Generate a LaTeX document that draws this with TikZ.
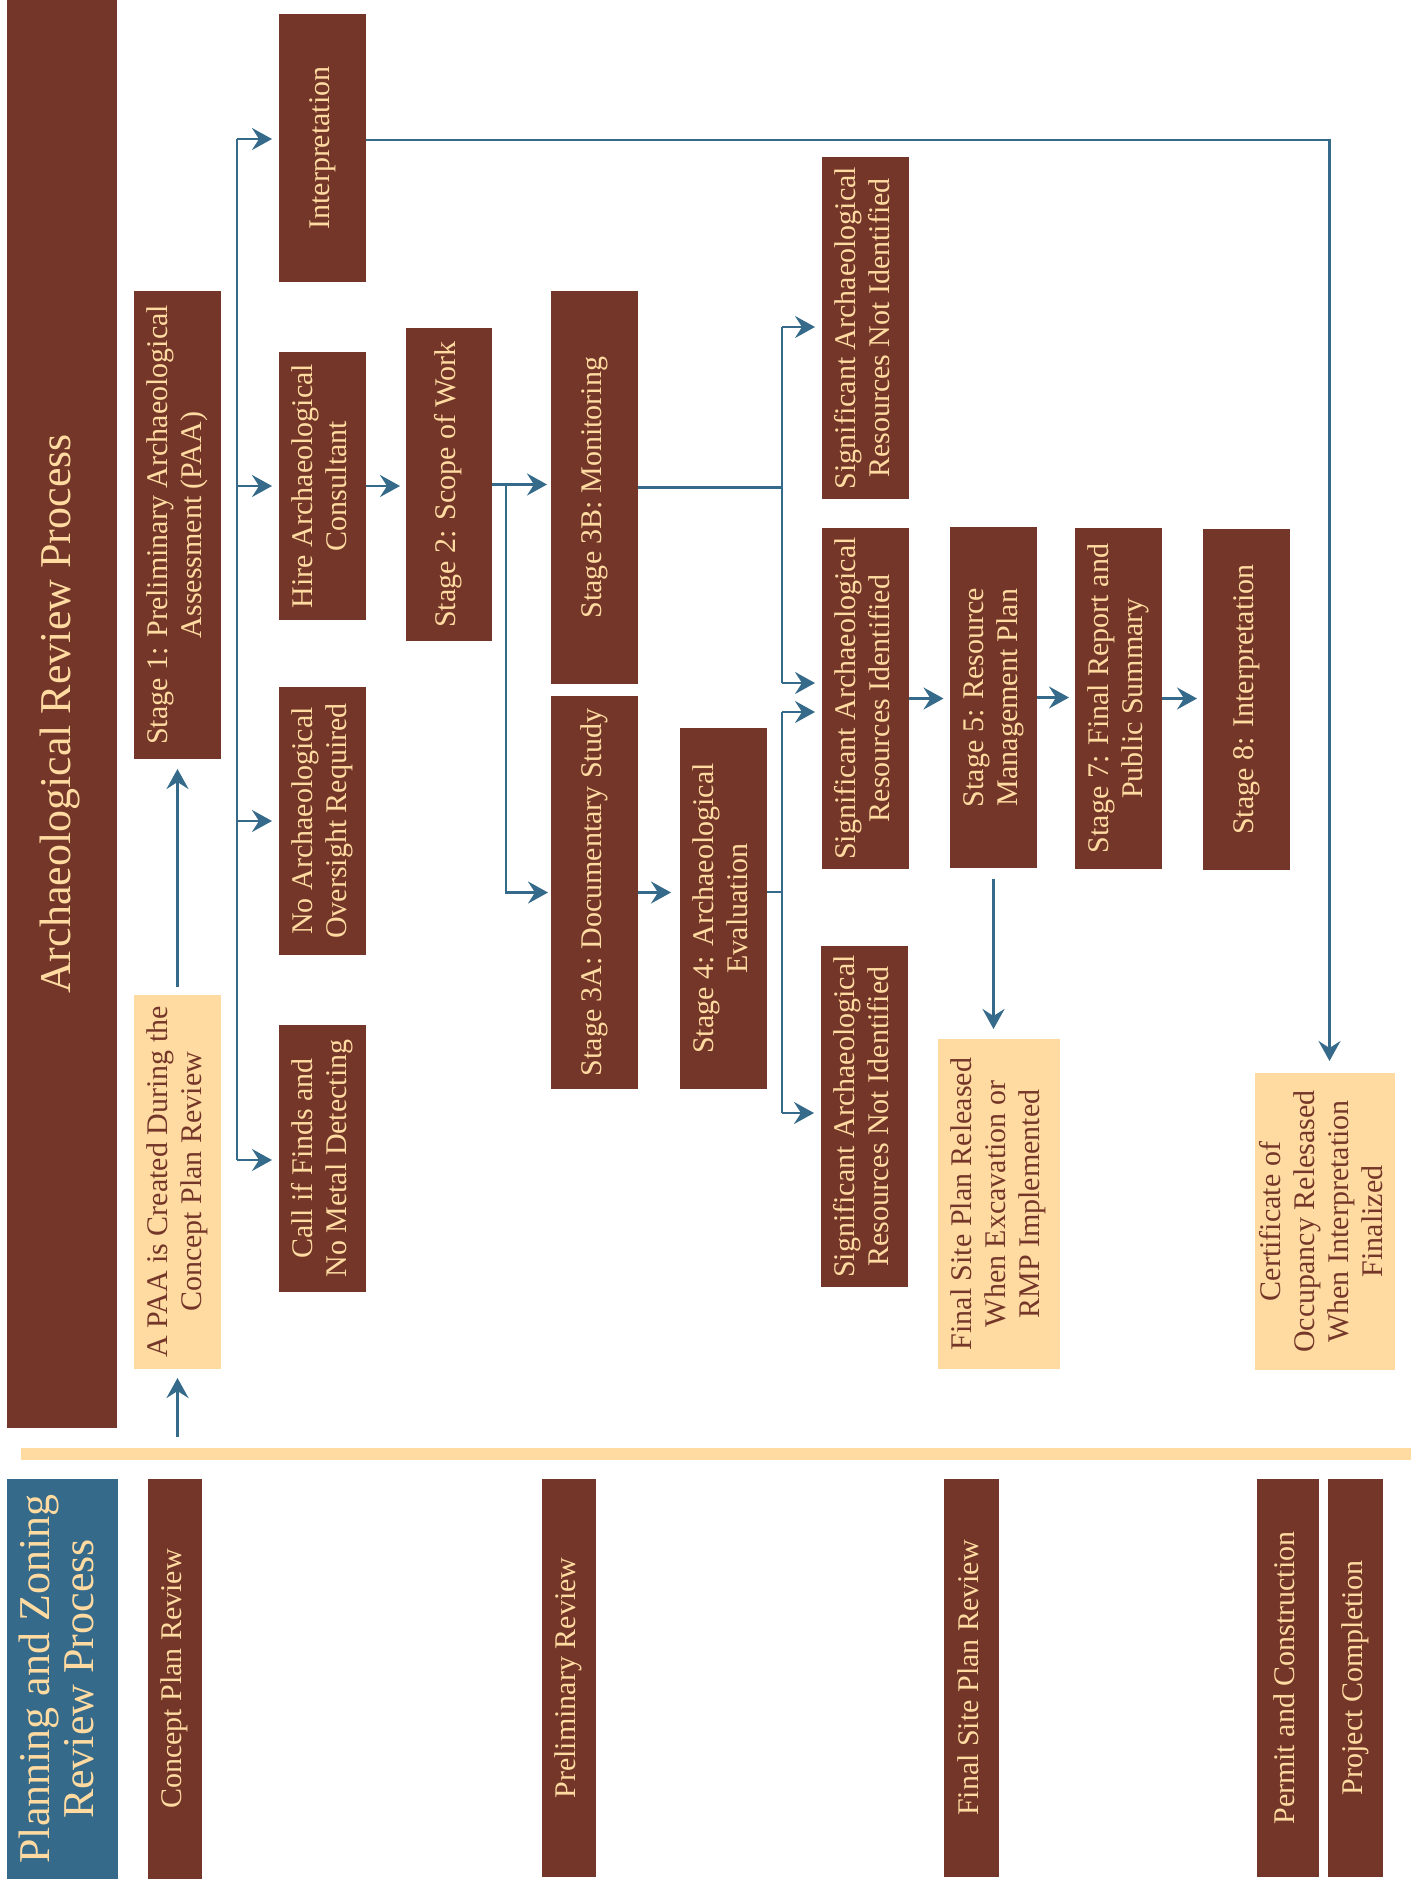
\documentclass[tikz,border=0pt]{standalone}
\usepackage{fontspec}
\setmainfont{Liberation Serif}
\usetikzlibrary{arrows.meta}
\definecolor{brn}{HTML}{743628}
\definecolor{lt}{HTML}{FFDBA2}
\definecolor{blu}{HTML}{356A8A}
\newcommand\rt[1]{\rotatebox{90}{\begin{tabular}{@{}c@{}}#1\end{tabular}}}
\begin{document}
\begin{tikzpicture}[x=0.5pt,y=-0.5pt,
 box/.style={fill=brn,text=lt,inner sep=0pt,outer sep=0pt,font=\fontsize{15}{17}\selectfont},
 lbox/.style={box,fill=lt,text=brn},
 big/.style={font=\fontsize{22}{22.5}\selectfont},
 ln/.style={draw=blu,line width=1.3pt},
 arr/.style={ln,-{Stealth[length=10pt,width=11pt,inset=3.5pt]}},
 arrk/.style={arr,line width=1.8pt},
]
\useasboundingbox (0,0) rectangle (1411,1879);
% top section
\node[box,big,minimum width=55pt,minimum height=714pt] (title) at (62,714) {\rt{Archaeological Review Process}};
\node[box,minimum width=43.5pt,minimum height=234pt] (stage1) at (177.5,525) {\rt{Stage 1: Preliminary Archaeological\\Assessment (PAA)}};
\node[lbox,minimum width=43.5pt,minimum height=187pt] (paa) at (177.5,1182) {\rt{A PAA is Created During the\\Concept Plan Review}};
\node[box,minimum width=43.5pt,minimum height=134pt] (interp1) at (322.5,148) {\rt{Interpretation}};
\node[box,minimum width=43.5pt,minimum height=134pt] (hire) at (322.5,486) {\rt{Hire Archaeological\\Consultant}};
\node[box,minimum width=43.5pt,minimum height=134pt] (noarch) at (322.5,821) {\rt{No Archaeological\\Oversight Required}};
\node[box,minimum width=43.5pt,minimum height=133.5pt] (call) at (322.5,1158.5) {\rt{Call if Finds and\\No Metal Detecting}};
\node[box,minimum width=43pt,minimum height=156.5pt] (stage2) at (449,484.5) {\rt{Stage 2: Scope of Work}};
\node[box,minimum width=43.5pt,minimum height=196.5pt] (s3b) at (594.5,487.5) {\rt{Stage 3B: Monitoring}};
\node[box,minimum width=43.5pt,minimum height=196.5pt] (s3a) at (594.5,892.5) {\rt{Stage 3A: Documentary Study}};
\node[box,minimum width=43.5pt,minimum height=180.5pt] (s4) at (723.5,908.5) {\rt{Stage 4: Archaeological\\Evaluation}};
\node[box,minimum width=43.5pt,minimum height=171pt] (signot1) at (865.5,328) {\rt{Significant Archaeological\\Resources Not Identified}};
\node[box,minimum width=43.5pt,minimum height=170.5pt] (sigid) at (865.5,698.5) {\rt{Significant Archaeological\\Resources Identified}};
\node[box,minimum width=43.5pt,minimum height=170.5pt] (signot2) at (864.5,1116.5) {\rt{Significant Archaeological\\Resources Not Identified}};
\node[box,minimum width=43.5pt,minimum height=170.5pt] (s5) at (993.5,697.5) {\rt{Stage 5: Resource\\Management Plan}};
\node[box,minimum width=43.5pt,minimum height=170.5pt] (s7) at (1118.5,698.5) {\rt{Stage 7: Final Report and\\Public Summary}};
\node[box,minimum width=43.5pt,minimum height=170.5pt] (s8) at (1246.5,699.5) {\rt{Stage 8: Interpretation}};
\node[lbox,minimum width=61pt,minimum height=165pt] (finalrel) at (999,1204) {\rt{Final Site Plan Released\\When Excavation or\\RMP Implemented}};
\node[lbox,minimum width=70pt,minimum height=148.5pt] (cert) at (1325,1221.5) {\rt{Certificate of\\Occupancy Relesased\\When Interpretation\\Finalized}};
% separator
\node[fill=lt,inner sep=0pt,minimum width=695pt,minimum height=6pt] (sep) at (716,1454) {};
% bottom section
\node[box,big,fill=blu,minimum width=55.5pt,minimum height=200pt] (plan) at (62.5,1679) {\rt{Planning and Zoning\\Review Process}};
\node[box,minimum width=27pt,minimum height=200pt] (concept) at (175,1679) {\rt{Concept Plan Review}};
\node[box,minimum width=27pt,minimum height=199pt] (prelim) at (569,1678) {\rt{Preliminary Review}};
\node[box,minimum width=27.5pt,minimum height=199pt] (finalsite) at (971.5,1678) {\rt{Final Site Plan Review}};
\node[box,minimum width=31pt,minimum height=199pt] (permit) at (1288,1678) {\rt{Permit and Construction}};
\node[box,minimum width=27.5pt,minimum height=199pt] (completion) at (1355.5,1678) {\rt{Project Completion}};
% coordinates
\coordinate (start) at (177.5,1437);
\coordinate (ta) at (237,139);
\coordinate (td) at (237,1160);
\coordinate (b2) at (506,485);
\coordinate (j1) at (782,485);
\coordinate (ju) at (782,327);
\coordinate (jd) at (782,683);
\coordinate (k1) at (782,892);
\coordinate (ku) at (782,712);
\coordinate (kd) at (782,1113);
\coordinate (lc) at (1329.5,140);
% connectors
\draw[arrk,shorten >=4.5pt] (start) -- (paa.south);
\draw[arrk,shorten <=4pt,shorten >=5pt] (paa.north) -- (stage1.south);
\draw[ln] (ta) -- (td);
\draw[arr,shorten >=3.5pt] (ta) -- (ta -| interp1.west);
\draw[arr,shorten >=3.5pt] (hire.west -| ta) -- (hire.west);
\draw[arr,shorten >=3.5pt] (noarch.west -| ta) -- (noarch.west);
\draw[arr,shorten >=3.5pt] (td) -- (td -| call.west);
\draw[arr,shorten >=3pt] (hire.east) -- (hire.east -| stage2.west);
\draw[arr,shorten >=2pt] (stage2.east) -- (stage2.east -| s3b.west);
\draw[arr,shorten >=1.5pt] (b2) |- (s3a.west);
\draw[arr,shorten >=4.5pt] (s3a.east) -- (s3a.east -| s4.west);
\draw[ln] (s3b.east) -- (s3b.east -| j1);
\draw[ln] (ju) -- (jd);
\draw[arr,shorten >=3.5pt] (ju) -- (ju -| signot1.west);
\draw[arr,shorten >=3.5pt] (jd) -- (jd -| sigid.west);
\draw[ln] (s4.east |- k1) -- (k1);
\draw[ln] (ku) -- (kd);
\draw[arr,shorten >=3.5pt] (ku) -- (ku -| sigid.west);
\draw[arr,shorten >=3.5pt] (kd) -- (kd -| signot2.west);
\draw[arr,shorten >=3.25pt] (sigid.east) -- (sigid.east -| s5.west);
\draw[arr,shorten >=3pt] (s5.east) -- (s5.east -| s7.west);
\draw[arr,shorten >=3pt] (s7.east) -- (s7.east -| s8.west);
\draw[arrk,shorten <=5.5pt,shorten >=5pt] (s5.south) -- (s5.south |- finalrel.north);
\draw[arr,shorten >=6pt] (interp1.east |- lc) -- (lc) -- (lc |- cert.north);
\end{tikzpicture}
\end{document}
